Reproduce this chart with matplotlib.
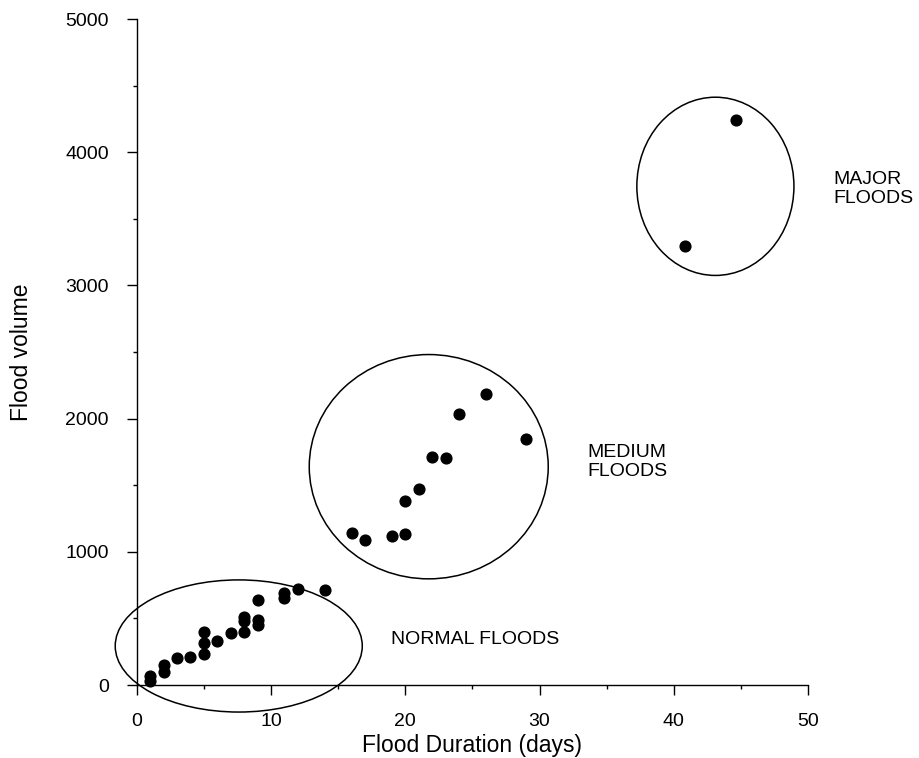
import matplotlib
matplotlib.use("Agg")
import matplotlib.pyplot as plt
from matplotlib.patches import Ellipse
from matplotlib.ticker import MultipleLocator

plt.rcParams['font.family'] = ['Liberation Sans', 'DejaVu Sans']

# Flood duration (days) and flood volume
duration = [1, 1, 2, 2, 3, 4, 5, 5, 5, 6, 7, 8, 8, 8, 9, 9, 9, 11, 11, 12, 14,
            16, 17, 19, 20, 20, 21, 22, 23, 24, 26, 29,
            40.8, 44.6]
volume = [30, 65, 100, 150, 200, 213, 230, 313, 400, 330, 393, 400, 480, 510, 450, 490, 640, 655, 690, 720, 714,
          1140, 1090, 1120, 1133, 1378, 1471, 1712, 1704, 2035, 2188, 1850,
          3296, 4243]

# Group ellipses: (center x, center y, width, height)
group_names = ["NORMAL FLOODS", "MEDIUM\nFLOODS", "MAJOR\nFLOODS"]
group_ellipses = [(7.6, 293, 18.4, 992), (21.75, 1639, 17.8, 1684), (43.1, 3744, 11.7, 1338)]
group_label_pos = [(18.95, 338), (33.6, 1677), (51.9, 3722)]

x_ticks = [0, 10, 20, 30, 40, 50]
y_ticks = [0, 1000, 2000, 3000, 4000, 5000]

fig = plt.figure(figsize=(9.2, 7.58), dpi=100)
ax = fig.add_axes([0.1486, 0.0963, 0.7297, 0.8786])

ax.scatter(duration, volume, s=60, color='black', zorder=3, clip_on=False)

for (cx, cy, w, h) in group_ellipses:
    e = Ellipse((cx, cy), w, h, fill=False, edgecolor='black', linewidth=1.1, clip_on=False)
    ax.add_patch(e)

for name, (tx, ty) in zip(group_names, group_label_pos):
    ax.text(tx, ty, name, fontsize=14, ha='left', va='center', clip_on=False, linespacing=1.15)

ax.set_xlim(0, 50)
ax.set_ylim(0, 5000)
ax.set_xticks(x_ticks)
ax.set_yticks(y_ticks)
ax.xaxis.set_minor_locator(MultipleLocator(5))
ax.yaxis.set_minor_locator(MultipleLocator(500))
ax.spines['top'].set_visible(False)
ax.spines['right'].set_visible(False)
for s in ['left', 'bottom']:
    ax.spines[s].set_linewidth(1.0)
ax.tick_params(axis='both', which='major', direction='out', length=7, width=1, labelsize=14)
ax.tick_params(axis='both', which='minor', direction='out', length=3, width=1)
ax.tick_params(axis='x', which='major', pad=13)
ax.tick_params(axis='y', which='major', pad=13)

ax.set_xlabel("Flood Duration (days)", fontsize=16.5, labelpad=3)
ax.set_ylabel("Flood volume", fontsize=16.5, labelpad=23)

fig.savefig("out.png", dpi=100)
